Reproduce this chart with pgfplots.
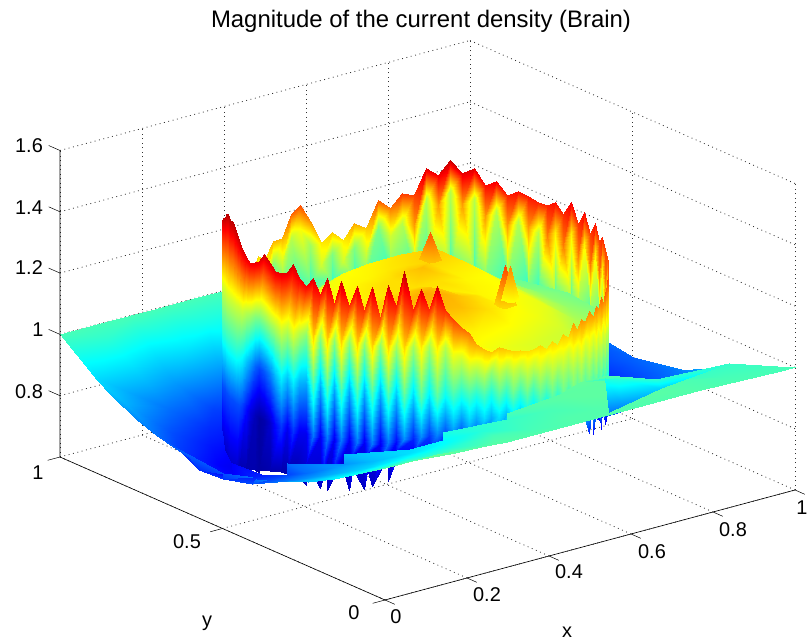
\documentclass[border=0pt]{standalone}
\usepackage{fontspec}
\setmainfont{Liberation Sans}
\usepackage{pgfplots}
\pgfplotsset{compat=1.18}
\pgfplotsset{sh/.style={surf,shader=interp,mesh/check=false}}
\begin{document}
\begin{tikzpicture}[x=1bp,y=1bp]
\useasboundingbox (0,0) rectangle (808,642);
\begin{axis}[anchor=south west,at={(60bp,42bp)},
 x={(410bp,110bp)},y={(-325bp,143bp)},z={(0bp,306.5bp)},
 clip=false,
 xmin=0,xmax=1,ymin=0,ymax=1,zmin=.6,zmax=1.6,
 xtick={0,.2,.4,.6,.8,1},ytick={0,.5,1},ztick={.8,1,1.2,1.4,1.6},
 xticklabels={},yticklabels={},zticklabels={},
 major tick length=0,grid=major,grid style={black!80,dash pattern=on .9pt off 3.6pt,line width=.8pt},
 axis line style={draw=none},
 colormap/jet,point meta min=.6,point meta max=1.5]
% outer surface, back half
\addplot3[sh,mesh/cols=6,point meta=z] table[
 x expr={min(1,max(0,.47+\thisrow{r}*cos(-40+10*floor(\coordindex/6))))},
 y expr={min(1,max(0,.5+\thisrow{r}*sin(-40+10*floor(\coordindex/6))))},z=z] {
r z
.37 .82
.395 .84
.47 .9
.6 .985
.77 1
1 1
.37 .77
.395 .78
.47 .84
.6 .9
.77 .955
1 1
.37 .74
.395 .75
.47 .79
.6 .84
.77 .875
1 .93
.37 .72
.395 .73
.47 .76
.6 .81
.77 .82
1 .835
.37 .71
.395 .72
.47 .75
.6 .8
.77 .8
1 .8
.37 .71
.395 .72
.47 .75
.6 .79
.77 .8
1 .83
.37 .72
.395 .73
.47 .77
.6 .83
.77 .87
1 .91
.37 .75
.395 .76
.47 .8
.6 .87
.77 .95
1 1
.37 .8
.395 .81
.47 .85
.6 .93
.77 1
1 1
.37 .85
.395 .86
.47 .9
.6 .97
.77 1
1 1
.37 .9
.395 .91
.47 .95
.6 1
.77 1
1 1
.37 .94
.395 .95
.47 .98
.6 1
.77 1
1 1
.37 .96
.395 .97
.47 .99
.6 1
.77 1
1 1
.37 .96
.395 .97
.47 .99
.6 1
.77 1
1 1
.37 .93
.395 .94
.47 .98
.6 1
.77 1
1 1
.37 .88
.395 .9
.47 .96
.6 1
.77 1
1 1
.37 .8
.395 .82
.47 .92
.6 1
.77 1
1 1
.37 .76
.395 .77
.47 .85
.6 .98
.77 1
1 1
.37 .74
.395 .75
.47 .81
.6 .9
.77 1
1 1
};
% back wall
\addplot3[sh,mesh/cols=3,point meta=\thisrow{c}] table[
 x expr={.47+.37*cos(-38+3.6*floor(\coordindex/3))},
 y expr={.5+.37*sin(-38+3.6*floor(\coordindex/3))},z=z] {
z c
1.04 1.0
1.21 1.2
1.31 1.34
1.04 1.06
1.19 1.28
1.29 1.32
1.04 1.0
1.19 1.18
1.29 1.32
1.04 1.06
1.2 1.28
1.3 1.33
1.04 1.0
1.23 1.18
1.33 1.36
1.04 1.06
1.2 1.28
1.3 1.33
1.04 1.0
1.25 1.18
1.35 1.38
1.04 1.06
1.2 1.28
1.3 1.33
1.04 1.0
1.26 1.18
1.36 1.39
1.04 1.06
1.21 1.28
1.31 1.34
1.04 1.0
1.27 1.18
1.37 1.4
1.04 1.06
1.22 1.28
1.32 1.35
1.04 1.0
1.25 1.18
1.35 1.38
1.04 1.06
1.23 1.28
1.33 1.36
1.04 .98
1.23 1.1
1.33 1.36
1.04 1.04
1.24 1.25
1.34 1.37
1.04 .98
1.25 1.1
1.35 1.38
1.04 1.04
1.23 1.25
1.33 1.36
1.04 .98
1.27 1.1
1.37 1.4
1.04 1.04
1.25 1.25
1.35 1.38
1.04 .98
1.3 1.1
1.4 1.42
1.04 1.04
1.28 1.25
1.38 1.41
1.04 .98
1.32 1.1
1.42 1.44
1.04 1.04
1.27 1.25
1.37 1.4
1.04 .98
1.29 1.1
1.39 1.42
1.04 1.04
1.2 1.25
1.3 1.33
1.04 .98
1.21 1.1
1.31 1.34
1.04 1.04
1.17 1.12
1.26 1.28
1.04 .98
1.2 1.05
1.29 1.31
1.04 1.02
1.12 1.12
1.2 1.21
1.04 .98
1.14 1.05
1.22 1.24
1.04 1.02
1.1 1.12
1.17 1.18
1.04 .98
1.13 1.05
1.2 1.21
1.04 1.02
1.1 1.12
1.17 1.18
1.04 .98
1.17 1.08
1.25 1.26
1.04 1.02
1.23 1.16
1.31 1.32
1.04 .98
1.21 1.1
1.29 1.3
1.04 1.02
1.14 1.12
1.22 1.23
1.04 .98
1.14 1.05
1.22 1.23
1.04 1.02
1.1 1.12
1.17 1.18
1.04 .98
1.12 1.05
1.19 1.2
1.04 1.02
1.08 1.12
1.14 1.15
1.04 .98
1.08 1.05
1.14 1.15
1.04 1.02
1.08 1.1
1.15 1.16
1.04 .98
1.08 1.05
1.15 1.16
1.04 1.02
1.09 1.1
1.17 1.18
1.04 .98
1.1 1.05
1.19 1.2
1.04 1.02
1.12 1.1
1.22 1.23
1.04 .98
1.14 1.05
1.25 1.26
1.04 1.02
1.17 1.1
1.27 1.28
1.04 .98
1.2 1.1
1.3 1.31
};
% interior
\addplot3[sh,z buffer=sort,mesh/cols=7,point meta=\thisrow{z}-.03] table[
 x expr={.47+.37*mod(\coordindex,7)/6*cos(-40+20*floor(\coordindex/7))},
 y expr={.5+.37*mod(\coordindex,7)/6*sin(-40+20*floor(\coordindex/7))},z=z] {
z
1.22
1.21
1.2
1.19
1.17
1.12
1.1
1.22
1.22
1.2
1.19
1.14
1.1
1.08
1.22
1.22
1.2
1.19
1.13
1.09
1.07
1.22
1.24
1.21
1.21
1.14
1.08
1.06
1.22
1.25
1.23
1.24
1.14
1.07
1.05
1.22
1.24
1.22
1.22
1.14
1.07
1.05
1.22
1.23
1.21
1.2
1.13
1.07
1.05
1.22
1.22
1.2
1.19
1.12
1.07
1.06
1.22
1.22
1.2
1.18
1.13
1.1
1.1
1.22
1.22
1.2
1.18
1.16
1.15
1.15
1.22
1.22
1.2
1.19
1.2
1.22
1.25
1.22
1.22
1.21
1.2
1.22
1.24
1.3
1.22
1.23
1.23
1.21
1.24
1.25
1.3
1.22
1.24
1.25
1.24
1.23
1.25
1.3
1.22
1.25
1.27
1.26
1.22
1.22
1.25
1.22
1.25
1.26
1.25
1.2
1.18
1.18
1.22
1.24
1.24
1.22
1.19
1.16
1.15
1.22
1.22
1.22
1.2
1.18
1.15
1.13
1.22
1.21
1.2
1.19
1.17
1.12
1.1
};
% three interior spikes
\addplot3[sh,mesh/cols=3,point meta=z] table {
.55 .328 1.2
.565 .328 1.2
.58 .328 1.2
.55 .343 1.2
.565 .343 1.33
.58 .343 1.2
.55 .358 1.2
.565 .358 1.2
.58 .358 1.2
};
\addplot3[sh,mesh/cols=3,point meta=z] table {
.571 .585 1.22
.586 .585 1.22
.601 .585 1.22
.571 .6 1.22
.586 .6 1.31
.601 .6 1.22
.571 .615 1.22
.586 .615 1.22
.601 .615 1.22
};
\addplot3[sh,mesh/cols=3,point meta=z] table {
.62 .40 1.16
.632 .40 1.16
.644 .40 1.16
.62 .412 1.16
.632 .412 1.27
.644 .412 1.16
.62 .424 1.16
.632 .424 1.16
.644 .424 1.16
};
% front wall
\addplot3[sh,mesh/cols=5,point meta=\thisrow{c}] table[
 x expr={.47+.37*cos(142+2.4*floor(\coordindex/5))},
 y expr={.5+.37*sin(142+2.4*floor(\coordindex/5))},z=z] {
z c
.74 .66
.92 .78
1.08 .96
1.24 1.12
1.37 1.37
.74 .66
.92 .78
1.08 .96
1.24 1.12
1.42 1.4
.74 .66
.92 .78
1.08 .96
1.24 1.12
1.45 1.42
.72 .66
.92 .78
1.08 .96
1.24 1.12
1.47 1.44
.72 .66
.92 .78
1.08 .96
1.24 1.12
1.48 1.44
.72 .66
.92 .78
1.08 .96
1.24 1.12
1.5 1.45
.72 .66
.92 .78
1.08 .96
1.24 1.12
1.51 1.45
.7 .66
.92 .78
1.08 .96
1.24 1.12
1.5 1.45
.7 .66
.92 .78
1.08 .96
1.24 1.12
1.5 1.45
.7 .66
.92 .78
1.08 .96
1.24 1.12
1.48 1.44
.71 .64
.92 .78
1.08 .95
1.24 1.12
1.46 1.43
.71 .64
.92 .76
1.08 .93
1.24 1.12
1.44 1.42
.72 .64
.92 .72
1.08 .89
1.24 1.1
1.42 1.41
.73 .64
.92 .68
1.08 .85
1.24 1.08
1.41 1.4
.74 .64
.92 .65
1.08 .8
1.24 1.05
1.42 1.41
.74 .63
.92 .63
1.08 .77
1.24 1.04
1.43 1.41
.75 .63
.92 .64
1.08 .79
1.24 1.05
1.46 1.43
.76 .64
.92 .67
1.08 .83
1.24 1.08
1.44 1.42
.76 .64
.92 .72
1.08 .88
1.24 1.1
1.42 1.41
.77 .64
.92 .76
1.08 .93
1.24 1.13
1.42 1.41
.77 .64
.92 .7
1.08 .88
1.24 1.1
1.43 1.41
.77 .64
.92 .76
1.08 .93
1.24 1.14
1.46 1.43
.78 .64
.92 .7
1.08 .87
1.24 1.1
1.42 1.4
.75 .66
.92 .7
1.08 .86
1.24 1.06
1.4 1.39
.82 .68
.92 .82
1.08 1
1.24 1.2
1.43 1.42
.75 .66
.92 .7
1.08 .86
1.24 1.06
1.38 1.37
.84 .68
.92 .82
1.08 1
1.24 1.2
1.44 1.43
.75 .66
.92 .7
1.08 .86
1.24 1.06
1.36 1.35
.85 .68
.92 .82
1.08 1
1.24 1.2
1.44 1.43
.76 .66
.92 .7
1.08 .86
1.24 1.06
1.36 1.35
.85 .68
.92 .82
1.08 1
1.24 1.2
1.43 1.42
.77 .66
.92 .7
1.08 .86
1.24 1.06
1.35 1.34
.87 .7
.92 .82
1.08 1
1.24 1.2
1.43 1.42
.78 .66
.92 .7
1.08 .86
1.24 1.06
1.33 1.32
.88 .7
.93 .82
1.08 1
1.24 1.2
1.44 1.43
.8 .66
.93 .72
1.08 .88
1.24 1.08
1.37 1.36
.9 .72
.94 .84
1.08 1.02
1.24 1.2
1.49 1.45
.88 .7
.94 .74
1.08 .9
1.24 1.08
1.36 1.35
.9 .74
.95 .84
1.08 1.02
1.24 1.18
1.43 1.42
.9 .72
.95 .76
1.08 .92
1.24 1.08
1.36 1.35
.92 .76
.96 .84
1.08 1.02
1.24 1.18
1.44 1.43
.92 .74
.96 .78
1.08 .94
1.24 1.1
1.36 1.35
.92 .78
.97 .86
1.08 1
1.22 1.16
1.33 1.33
.93 .76
.98 .82
1.08 .96
1.2 1.12
1.3 1.3
.93 .8
.98 .88
1.08 1
1.18 1.14
1.28 1.28
.94 .78
.98 .84
1.07 .96
1.15 1.08
1.24 1.24
.94 .82
.99 .9
1.07 1
1.14 1.1
1.22 1.22
.94 .82
.99 .86
1.07 .96
1.14 1.06
1.21 1.21
.95 .86
1 .92
1.07 1.02
1.15 1.12
1.22 1.22
.95 .84
1 .88
1.07 .98
1.14 1.08
1.21 1.21
.95 .88
1 .94
1.07 1.04
1.14 1.12
1.2 1.2
.95 .86
1 .9
1.07 1
1.14 1.1
1.2 1.2
.95 .9
1 .96
1.07 1.05
1.13 1.12
1.19 1.19
.95 .88
1 .92
1.07 1.01
1.13 1.1
1.19 1.19
.95 .92
1 .98
1.07 1.06
1.14 1.14
1.2 1.2
.95 .9
1 .94
1.07 1.03
1.13 1.11
1.18 1.18
.95 .94
1 1
1.07 1.07
1.14 1.14
1.2 1.2
.95 .92
1 .96
1.07 1.04
1.13 1.12
1.18 1.18
.95 .96
1 1.02
1.08 1.08
1.15 1.15
1.21 1.21
.95 .94
1 .98
1.07 1.05
1.14 1.12
1.19 1.19
.95 .98
1 1.03
1.08 1.09
1.16 1.17
1.23 1.25
.95 .96
1 1
1.07 1.06
1.14 1.13
1.2 1.22
.95 .98
1 1.03
1.08 1.1
1.16 1.18
1.23 1.26
.95 .96
1 1
1.07 1.06
1.15 1.14
1.21 1.24
.84 .74
1 1.03
1.08 1.1
1.17 1.18
1.24 1.27
.95 .96
1 1
1.07 1.06
1.15 1.14
1.21 1.24
.83 .72
1 1.03
1.08 1.1
1.17 1.19
1.24 1.28
.95 .96
1 1
1.07 1.07
1.15 1.15
1.22 1.25
.82 .7
1 1.03
1.08 1.1
1.17 1.2
1.25 1.3
.95 .96
1 1
1.07 1.07
1.15 1.15
1.22 1.26
.82 .7
1 1.03
1.08 1.1
1.17 1.2
1.25 1.31
.95 .96
1 1
1.07 1.07
1.15 1.16
1.23 1.28
.82 .7
1 1.03
1.08 1.1
1.18 1.22
1.27 1.33
.95 .96
1 1
1.07 1.07
1.15 1.16
1.24 1.3
.82 .7
1 1.03
1.08 1.1
1.19 1.24
1.29 1.35
.95 .96
1 1
1.07 1.07
1.18 1.2
1.31 1.36
};
% outer surface, front half
\addplot3[sh,mesh/cols=6,point meta=z] table[
 x expr={min(1,max(0,.47+\thisrow{r}*cos(140+10*floor(\coordindex/6))))},
 y expr={min(1,max(0,.5+\thisrow{r}*sin(140+10*floor(\coordindex/6))))},z=z] {
r z
.37 .74
.395 .75
.47 .81
.6 .9
.77 1
1 1
.37 .72
.395 .73
.47 .78
.6 .87
.77 .905
1 1
.37 .7
.395 .71
.47 .76
.6 .81
.77 .83
1 .875
.37 .71
.395 .71
.47 .75
.6 .785
.77 .79
1 .8
.37 .74
.395 .74
.47 .76
.6 .78
.77 .78
1 .78
.37 .77
.395 .77
.47 .78
.6 .81
.77 .82
1 .84
.37 .806
.395 .81
.47 .82
.6 .85
.77 .875
1 .92
.37 .844
.395 .85
.47 .86
.6 .9
.77 .955
1 1.03
.37 .877
.395 .88
.47 .9
.6 .95
.77 1.03
1 1.03
.37 .909
.395 .91
.47 .94
.6 1
.77 1.03
1 1.03
.37 .936
.395 .94
.47 .97
.6 1.02
.77 1.03
1 1.03
.37 .961
.395 .97
.47 1
.6 1.015
.77 1.02
1 1.03
.37 .982
.395 .99
.47 1
.6 1.01
.77 1.01
1 1.01
.37 1.001
.395 1
.47 1.01
.6 1.01
.77 1.01
1 1.01
.37 1.018
.395 1.02
.47 1.01
.6 1.01
.77 1.01
1 1.01
.37 1.026
.395 1.02
.47 1.02
.6 1.01
.77 1.01
1 1.01
.37 1.026
.395 1.02
.47 1.01
.6 1.01
.77 1.01
1 1.01
.37 .97
.395 .97
.47 .98
.6 1
.77 1
1 1
.37 .82
.395 .84
.47 .9
.6 .985
.77 1
1 1
};
% axes
\draw[black,line width=.6pt] (axis cs:0,1,1.6)--(axis cs:0,1,.6)--(axis cs:0,0,.6)--(axis cs:1,0,.6);
\draw[black,line width=.5pt]
 (axis cs:0,1,.8)--(axis cs:0,1.035,.8) (axis cs:0,1,1)--(axis cs:0,1.035,1)
 (axis cs:0,1,1.2)--(axis cs:0,1.035,1.2) (axis cs:0,1,1.4)--(axis cs:0,1.035,1.4)
 (axis cs:0,1,1.6)--(axis cs:0,1.035,1.6)
 (axis cs:0,1,.6)--(axis cs:-.03,1,.6) (axis cs:0,.5,.6)--(axis cs:-.03,.5,.6) (axis cs:0,0,.6)--(axis cs:-.03,0,.6)
 (axis cs:0,0,.6)--(axis cs:0,-.03,.6) (axis cs:.2,0,.6)--(axis cs:.2,-.03,.6) (axis cs:.4,0,.6)--(axis cs:.4,-.03,.6)
 (axis cs:.6,0,.6)--(axis cs:.6,-.03,.6) (axis cs:.8,0,.6)--(axis cs:.8,-.03,.6) (axis cs:1,0,.6)--(axis cs:1,-.03,.6);
\end{axis}
\begin{scope}[every node/.style={inner sep=0pt,font=\fontsize{20}{20}\selectfont}]
\node[font=\fontsize{24}{24}\selectfont] at (421,621) {Magnitude of the current density (Brain)};
\node at (29,496) {1.6};
\node at (29,434) {1.4};
\node at (29,374) {1.2};
\node at (38,312) {1};
\node at (29,250) {0.8};
\node at (38,169) {1};
\node at (187,100) {0.5};
\node at (354,29) {0};
\node at (396,25) {0};
\node at (487,47) {0.2};
\node at (569,70) {0.4};
\node at (652,90) {0.6};
\node at (733,112) {0.8};
\node at (802,134) {1};
\node at (567,10) {x};
\node at (207,19) {y};
\end{scope}
\end{tikzpicture}
\end{document}
